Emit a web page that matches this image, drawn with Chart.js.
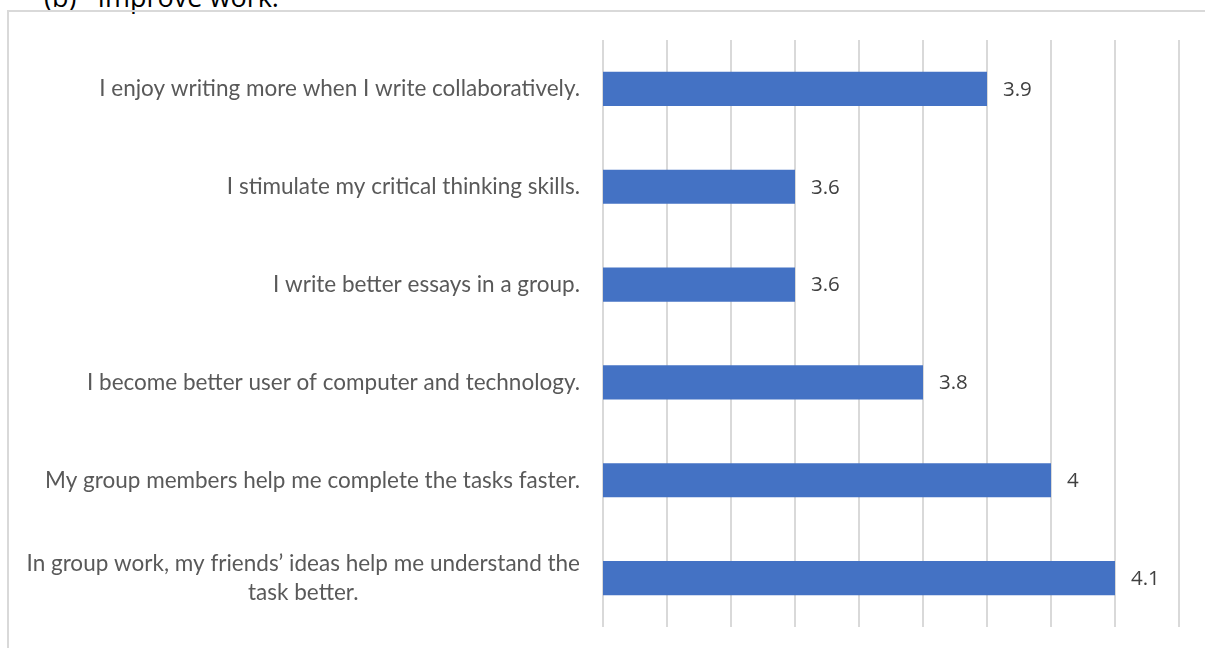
<!DOCTYPE html>
<html>
<head>
<meta charset="utf-8">
<script src="https://cdn.jsdelivr.net/npm/chart.js@4.4.0/dist/chart.umd.min.js"></script>
<style>
  html, body { margin: 0; padding: 0; background: #fff; overflow: hidden; }
  #wrap { position: relative; width: 1205px; height: 648px; }
  #frame { position: absolute; left: 7px; top: 10px; width: 1200px; height: 660px; border: 2px solid #d9d9d9; box-sizing: border-box; }
  #title { position: absolute; left: 44px; top: -22px; font-family: "Open Sans", sans-serif; font-size: 27px; color: #000; white-space: pre; }
  canvas { position: absolute; left: 0; top: 0; }
</style>
</head>
<body>
<div id="wrap">
  <div id="title">(b)   Improve work.</div>
  <div id="frame"></div>
  <canvas id="myChart" width="1205" height="648"></canvas>
</div>
<script>
const categories = [
    'I enjoy writing more when I write collaboratively.',
    'I stimulate my critical thinking skills.',
    'I write better essays in a group.',
    'I become better user of computer and technology.',
    'My group members help me complete the tasks faster.',
    ['In group work, my friends\u2019 ideas help me understand the', 'task better.']
];
const scores = [3.9, 3.6, 3.6, 3.8, 4, 4.1];
const axisMin = 3.3;
const axisMax = 4.2;
const axisStep = 0.1;

const labelFont = '22.5px Lato, "Open Sans", sans-serif';
const valueFont = '20.5px "Open Sans", sans-serif';

// category labels drawn by hand so the wrapped one can be centred like Excel does
const catLabels = {
    id: 'catLabels',
    afterDraw(chart) {
        const c = chart.ctx;
        const y = chart.scales.y;
        c.save();
        c.font = labelFont;
        c.fillStyle = '#595959';
        c.textBaseline = 'middle';
        categories.forEach((lab, i) => {
            const py = y.getPixelForTick(i);
            const right = chart.chartArea.left - 23;
            if (Array.isArray(lab)) {
                const w = Math.max(...lab.map(s => c.measureText(s).width));
                const mid = right - w / 2;
                c.textAlign = 'center';
                const lh = 29;
                lab.forEach((s, k) => {
                    c.fillText(s, mid, py + (k - (lab.length - 1) / 2) * lh);
                });
            } else {
                c.textAlign = 'right';
                c.fillText(lab, right, py);
            }
        });
        c.restore();
    }
};

const valueLabels = {
    id: 'valueLabels',
    afterDatasetsDraw(chart) {
        const c = chart.ctx;
        const meta = chart.getDatasetMeta(0);
        c.save();
        c.font = valueFont;
        c.fillStyle = '#404040';
        c.textAlign = 'left';
        c.textBaseline = 'middle';
        meta.data.forEach((bar, i) => {
            c.fillText(String(scores[i]), bar.x + 16, bar.y + 1);
        });
        c.restore();
    }
};

const ctx = document.getElementById('myChart').getContext('2d');
const myChart = new Chart(ctx, {
    type: 'bar',
    data: {
        labels: categories,
        datasets: [{
            data: scores,
            backgroundColor: '#4472c4',
            borderWidth: 0,
            barPercentage: 0.35,
            categoryPercentage: 1
        }]
    },
    plugins: [catLabels, valueLabels],
    options: {
        indexAxis: 'y',
        responsive: false,
        animation: false,
        layout: { padding: { top: 40, bottom: 21, left: 0, right: 26 } },
        plugins: {
            legend: { display: false },
            tooltip: { enabled: false }
        },
        scales: {
            x: {
                min: axisMin,
                max: axisMax,
                ticks: { display: false, stepSize: axisStep },
                grid: { color: '#d9d9d9', lineWidth: 2, drawTicks: false },
                border: { display: false }
            },
            y: {
                ticks: { display: false },
                grid: { display: false },
                border: { display: false },
                afterFit(scale) { scale.width = 603; }
            }
        }
    }
});
</script>
</body>
</html>
